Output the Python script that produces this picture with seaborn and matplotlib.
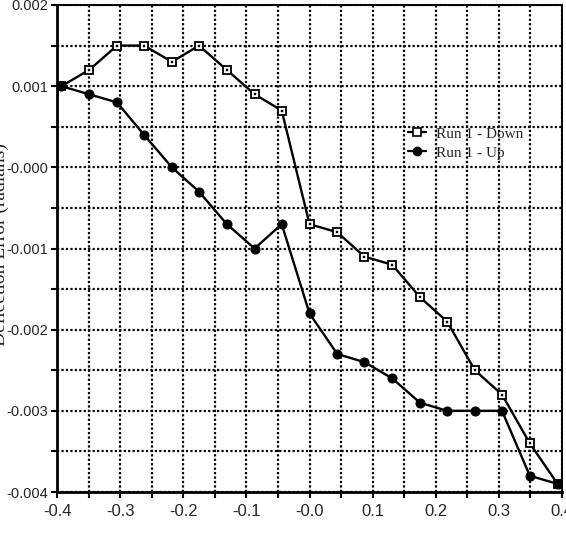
import matplotlib
matplotlib.use("Agg")
import matplotlib.pyplot as plt
import seaborn as sns
import pandas as pd
from matplotlib.ticker import MultipleLocator, FixedLocator, FixedFormatter
from matplotlib.lines import Line2D

# Data
angle = [-0.393, -0.349, -0.305, -0.262, -0.218, -0.175, -0.131, -0.087, -0.044, 0.0,
         0.044, 0.087, 0.131, 0.175, 0.218, 0.262, 0.305, 0.349, 0.393]
run1_down = [0.0010, 0.0012, 0.0015, 0.0015, 0.0013, 0.0015, 0.0012, 0.0009, 0.0007, -0.0007,
             -0.0008, -0.0011, -0.0012, -0.0016, -0.0019, -0.0025, -0.0028, -0.0034, -0.0039]
run1_up = [0.0010, 0.0009, 0.0008, 0.0004, 0.0000, -0.0003, -0.0007, -0.0010, -0.0007, -0.0018,
           -0.0023, -0.0024, -0.0026, -0.0029, -0.0030, -0.0030, -0.0030, -0.0038, -0.0039]
series_names = ["Run 1 - Down", "Run 1 - Up"]
x_tick_vals = [-0.4, -0.3, -0.2, -0.1, 0.0, 0.1, 0.2, 0.3, 0.4]
x_tick_labels = ["-0.4", "-0.3", "-0.2", "-0.1", "-0.0", "0.1", "0.2", "0.3", "0.4"]
y_tick_vals = [0.002, 0.001, 0.0, -0.001, -0.002, -0.003, -0.004]
y_tick_labels = ["0.002", "0.001", "-0.000", "-0.001", "-0.002", "-0.003", "-0.004"]

sns.set_style("white")
plt.rcParams['font.family'] = ['Liberation Sans', 'DejaVu Sans']

fig = plt.figure(figsize=(5.66, 5.41), dpi=100)
ax = fig.add_axes([57/566, 1 - 492/541, (562 - 57)/566, (492 - 5)/541])

df_down = pd.DataFrame({"x": angle, "y": run1_down})
df_up = pd.DataFrame({"x": angle, "y": run1_up})

sns.lineplot(data=df_down, x="x", y="y", ax=ax, color="black", lw=1.7,
             marker="s", markersize=6, markerfacecolor="white",
             markeredgecolor="black", markeredgewidth=1.3, zorder=5)
sns.lineplot(data=df_down, x="x", y="y", ax=ax, color="black", lw=0,
             marker="s", markersize=1.8, markerfacecolor="black",
             markeredgecolor="black", markeredgewidth=0.3, zorder=6)
sns.lineplot(data=df_up, x="x", y="y", ax=ax, color="black", lw=1.7,
             marker="o", markersize=6.5, markerfacecolor="black",
             markeredgecolor="black", zorder=5)

ax.set_xlim(-0.4, 0.4)
ax.set_ylim(-0.004, 0.002)

ax.xaxis.set_major_locator(FixedLocator(x_tick_vals))
ax.xaxis.set_major_formatter(FixedFormatter(x_tick_labels))
ax.xaxis.set_minor_locator(MultipleLocator(0.05))
ax.yaxis.set_major_locator(FixedLocator(y_tick_vals))
ax.yaxis.set_major_formatter(FixedFormatter(y_tick_labels))
ax.yaxis.set_minor_locator(MultipleLocator(0.0005))

ax.grid(True, which="both", color="black", linestyle=(0, (1, 1)), linewidth=1.6)
ax.set_axisbelow(True)

ax.tick_params(axis="both", which="both", direction="out", length=4.5, width=1.5,
               color="black", bottom=True, left=True, top=False, right=False)
ax.tick_params(axis="x", which="major", labelsize=12, pad=4)
ax.tick_params(axis="y", which="major", labelsize=10.5, pad=2)

for s in ["left", "bottom"]:
    ax.spines[s].set_linewidth(2.0)
    ax.spines[s].set_color("black")
for s in ["top", "right"]:
    ax.spines[s].set_linewidth(1.4)
    ax.spines[s].set_color("black")

ax.set_xlabel("")
ax.set_ylabel("")

fig.text(9/566, 1 - 245/541, "Deflection Error (radians)", rotation=90,
         ha="right", va="center", fontsize=14, family=["Liberation Serif", "DejaVu Serif"])

handles = [
    Line2D([], [], color="black", lw=1.6, marker="s", markersize=5.5, markerfacecolor="white",
           markeredgecolor="black", markeredgewidth=1.2),
    Line2D([], [], color="black", lw=1.6, marker="o", markersize=6, markerfacecolor="black"),
]
ax.legend(handles, series_names, loc="upper left", bbox_to_anchor=(0.668, 0.778),
          frameon=False, handlelength=1.2, handletextpad=0.6, labelspacing=0.35,
          prop={"family": "Liberation Serif", "size": 11})

fig.savefig("out.png", dpi=100)
